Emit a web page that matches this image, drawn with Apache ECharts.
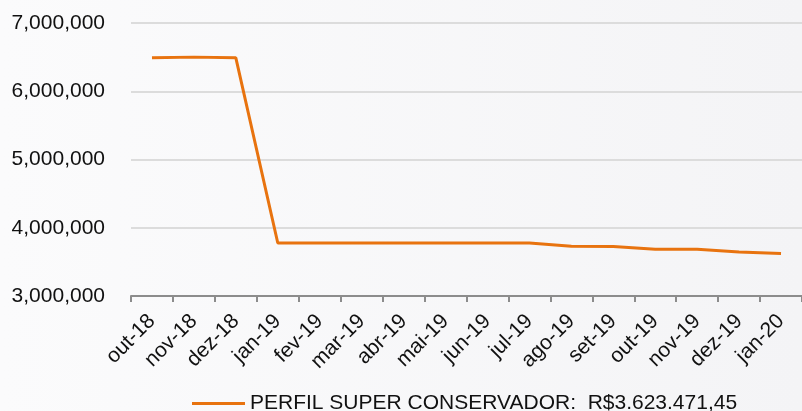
<!DOCTYPE html>
<html><head><meta charset="utf-8">
<script src="https://cdn.jsdelivr.net/npm/echarts@6/dist/echarts.min.js"></script>
<style>html,body{margin:0;padding:0;}#c{width:802px;height:411px;background:linear-gradient(90deg,#fbfbfc,#f4f4f6);}</style>
</head><body><div id="c"></div>
<script>
const categories = ['out-18','nov-18','dez-18','jan-19','fev-19','mar-19','abr-19','mai-19','jun-19','jul-19','ago-19','set-19','out-19','nov-19','dez-19','jan-20'];
const seriesName = 'PERFIL SUPER CONSERVADOR:  R$3.623.471,45';
const values = [6490000,6500000,6490000,3776000,3776000,3776000,3776000,3776000,3776000,3776000,3728000,3726000,3684000,3684000,3645000,3623471];
const yMin = 3000000, yMax = 7000000, yStep = 1000000;

const chart = echarts.init(document.getElementById('c'), null, {renderer:'canvas'});
chart.setOption({
  backgroundColor: 'transparent',
  animation: false,
  textStyle: {fontFamily: 'Liberation Sans, Arial, sans-serif'},
  grid: {left: 131, right: -1, top: 23, bottom: 115, containLabel: false},
  xAxis: {
    type: 'category', data: categories, boundaryGap: true,
    axisLine: {lineStyle: {color: '#8c8c8c', width: 2}},
    axisTick: {show: true, length: 6, lineStyle: {color: '#8c8c8c', width: 2}, interval: 0},
    axisLabel: {interval: 0, rotate: 45, color: '#111', fontSize: 21, margin: 22}
  },
  yAxis: {
    type: 'value', min: yMin, max: yMax, interval: yStep,
    axisLine: {show: false}, axisTick: {show: false},
    splitLine: {lineStyle: {color: '#dcdcdc', width: 2}},
    axisLabel: {color: '#111', fontSize: 21, margin: 26,
      formatter: v => v.toLocaleString('en-US')}
  },
  legend: {
    left: 187, top: 388, itemWidth: 53, itemHeight: 3, itemGap: 5,
    textStyle: {color: '#111', fontSize: 21},
    data: [{name: seriesName, icon: 'rect', itemStyle: {color: '#e8730f'}}]
  },
  series: [{
    name: seriesName, type: 'line', data: values, symbol: 'none',
    lineStyle: {color: '#e8730f', width: 3}, itemStyle: {color: '#e8730f'}
  }]
});
</script></body></html>
